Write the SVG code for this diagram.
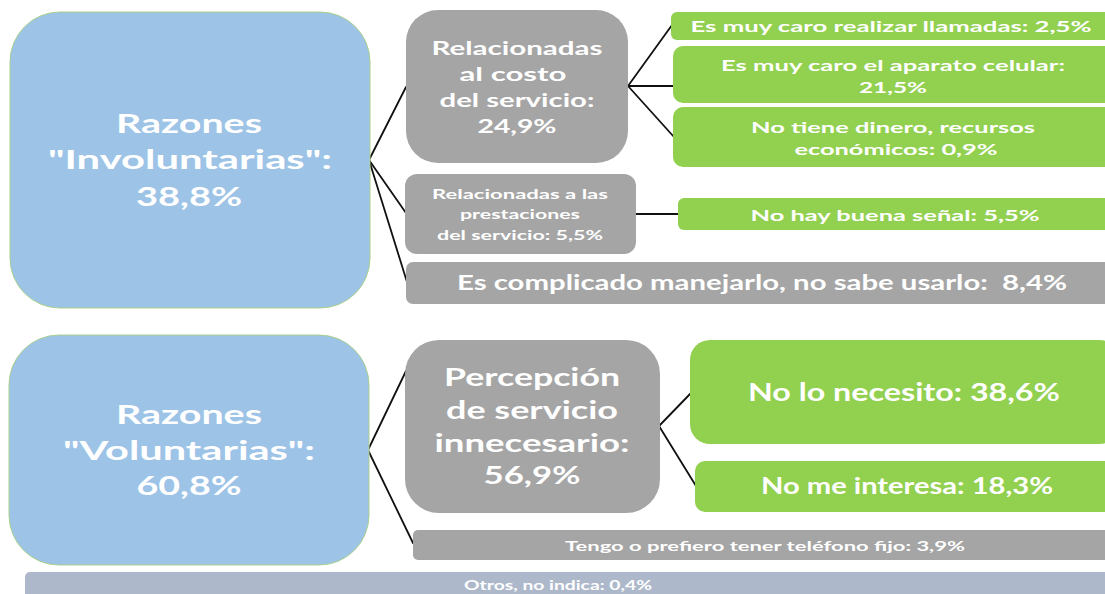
<svg xmlns="http://www.w3.org/2000/svg" width="1105" height="594" viewBox="0 0 1105 594">
<style>
.blue{fill:#9DC3E6;stroke:#A9D18E;stroke-width:1}
.gray{fill:#A5A5A5}
.green{fill:#92D050}
.otros{fill:#ADB9CA}
text{font-family:Lato,"Open Sans","Liberation Sans",sans-serif;font-weight:bold;fill:#FFFFFF;text-anchor:middle;white-space:pre}
.conn line{stroke:#111;stroke-width:1.8;stroke-linecap:round}
</style>
<rect width="1105" height="594" fill="#FFFFFF"/>
<g class="conn" id="connectors">
<line x1="369" y1="160" x2="406" y2="87"/>
<line x1="369" y1="160" x2="406" y2="213"/>
<line x1="369" y1="160" x2="407" y2="282"/>
<line x1="628" y1="86" x2="672" y2="25"/>
<line x1="628" y1="86" x2="673" y2="86"/>
<line x1="628" y1="86" x2="674" y2="137"/>
<line x1="636" y1="214" x2="678" y2="214"/>
<line x1="368" y1="450" x2="406" y2="371"/>
<line x1="368" y1="450" x2="413" y2="543"/>
<line x1="659" y1="426" x2="691" y2="393"/>
<line x1="659" y1="426" x2="696" y2="486"/>
</g>
<g id="involuntarias">
<rect class="blue" x="10" y="12" width="360" height="296" rx="50"/>
<text font-size="26" x="189" y="133" textLength="146" lengthAdjust="spacingAndGlyphs">Razones</text>
<text font-size="26" x="190" y="169" textLength="284" lengthAdjust="spacingAndGlyphs">"Involuntarias":</text>
<text font-size="26" x="189" y="206" textLength="106" lengthAdjust="spacingAndGlyphs">38,8%</text>
</g>
<g id="costo">
<rect class="gray" x="406" y="10" width="222" height="153" rx="32"/>
<text font-size="19" x="517" y="55" textLength="171" lengthAdjust="spacingAndGlyphs">Relacionadas</text>
<text font-size="19" x="513" y="81" textLength="107" lengthAdjust="spacingAndGlyphs">al costo</text>
<text font-size="19" x="517" y="107" textLength="155" lengthAdjust="spacingAndGlyphs">del servicio:</text>
<text font-size="19" x="517" y="133" textLength="79" lengthAdjust="spacingAndGlyphs">24,9%</text>
</g>
<g id="prestaciones">
<rect class="gray" x="405" y="174" width="231" height="80" rx="12"/>
<text font-size="14" x="520" y="199" textLength="176" lengthAdjust="spacingAndGlyphs">Relacionadas a las</text>
<text font-size="14" x="520" y="219" textLength="120" lengthAdjust="spacingAndGlyphs">prestaciones</text>
<text font-size="14" x="520" y="240" textLength="166" lengthAdjust="spacingAndGlyphs">del servicio: 5,5%</text>
</g>
<g id="complicado">
<rect class="gray" x="406" y="262" width="710" height="42" rx="7"/>
<text font-size="20" x="762" y="290" textLength="610" lengthAdjust="spacingAndGlyphs">Es complicado manejarlo, no sabe usarlo:  8,4%</text>
</g>
<g id="llamadas">
<rect class="green" x="671" y="12" width="445" height="28" rx="6"/>
<text font-size="16" x="891" y="32" textLength="401" lengthAdjust="spacingAndGlyphs">Es muy caro realizar llamadas: 2,5%</text>
</g>
<g id="aparato">
<rect class="green" x="673" y="46" width="445" height="57" rx="10"/>
<text font-size="16" x="893" y="71" textLength="344" lengthAdjust="spacingAndGlyphs">Es muy caro el aparato celular:</text>
<text font-size="16" x="893" y="93" textLength="68" lengthAdjust="spacingAndGlyphs">21,5%</text>
</g>
<g id="dinero">
<rect class="green" x="673" y="107" width="445" height="60" rx="10"/>
<text font-size="16" x="893" y="133" textLength="284" lengthAdjust="spacingAndGlyphs">No tiene dinero, recursos</text>
<text font-size="16" x="896" y="155" textLength="203" lengthAdjust="spacingAndGlyphs">económicos: 0,9%</text>
</g>
<g id="senal">
<rect class="green" x="678" y="198" width="440" height="32" rx="6"/>
<text font-size="16" x="895" y="221" textLength="289" lengthAdjust="spacingAndGlyphs">No hay buena señal: 5,5%</text>
</g>
<g id="voluntarias">
<rect class="blue" x="9" y="335" width="360" height="230" rx="50"/>
<text font-size="26" x="189" y="424" textLength="146" lengthAdjust="spacingAndGlyphs">Razones</text>
<text font-size="26" x="189" y="460" textLength="252" lengthAdjust="spacingAndGlyphs">"Voluntarias":</text>
<text font-size="26" x="189" y="495" textLength="105" lengthAdjust="spacingAndGlyphs">60,8%</text>
</g>
<g id="percepcion">
<rect class="gray" x="405" y="340" width="255" height="173" rx="34"/>
<text font-size="25" x="532" y="386" textLength="176" lengthAdjust="spacingAndGlyphs">Percepción</text>
<text font-size="25" x="532" y="419" textLength="172" lengthAdjust="spacingAndGlyphs">de servicio</text>
<text font-size="25" x="532" y="452" textLength="195" lengthAdjust="spacingAndGlyphs">innecesario:</text>
<text font-size="25" x="532" y="484" textLength="97" lengthAdjust="spacingAndGlyphs">56,9%</text>
</g>
<g id="necesito">
<rect class="green" x="690" y="340" width="430" height="104" rx="20"/>
<text font-size="24" x="904" y="401" textLength="312" lengthAdjust="spacingAndGlyphs">No lo necesito: 38,6%</text>
</g>
<g id="interesa">
<rect class="green" x="695" y="461" width="425" height="51" rx="10"/>
<text font-size="22" x="907" y="494" textLength="292" lengthAdjust="spacingAndGlyphs">No me interesa: 18,3%</text>
</g>
<g id="fijo">
<rect class="gray" x="413" y="530" width="705" height="30" rx="5"/>
<text font-size="14" x="765" y="551" textLength="400" lengthAdjust="spacingAndGlyphs">Tengo o prefiero tener teléfono fijo: 3,9%</text>
</g>
<g id="otros">
<rect class="otros" x="25" y="572" width="1095" height="30" rx="5"/>
<text font-size="14" x="558" y="590" textLength="188" lengthAdjust="spacingAndGlyphs">Otros, no indica: 0,4%</text>
</g>
</svg>
